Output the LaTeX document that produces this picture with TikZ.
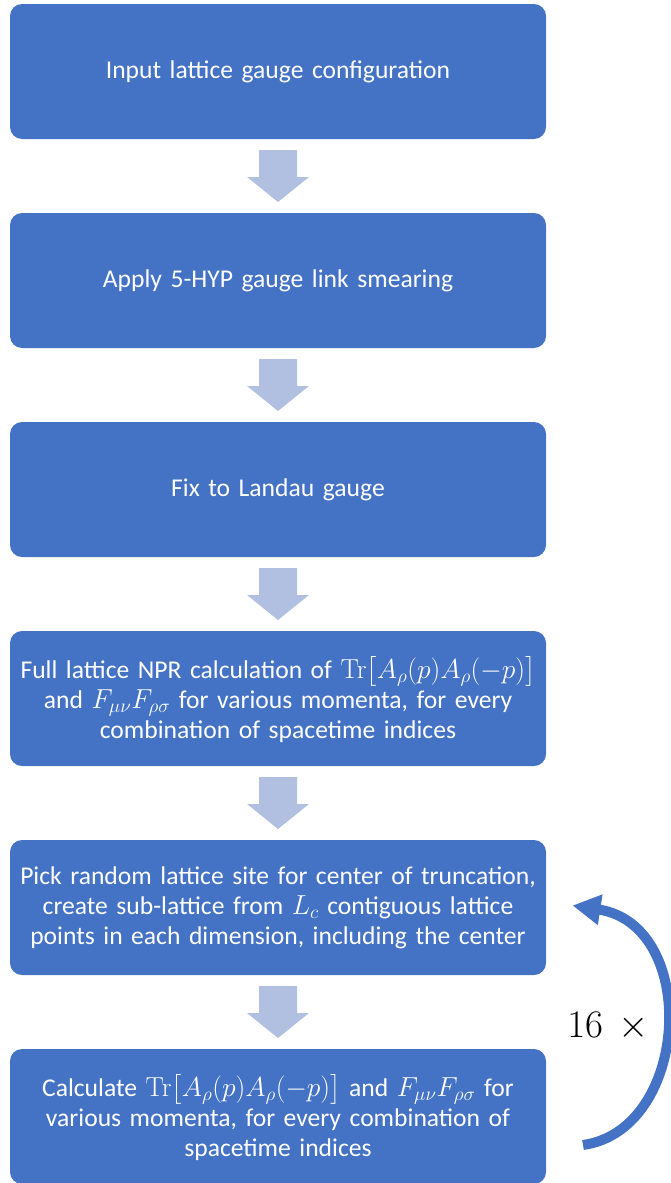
\RequirePackage{fix-cm}
\documentclass[tikz,border=0pt]{standalone}
\usepackage{amsmath}
\usepackage[no-math]{fontspec}
\setmainfont{Carlito}
\usetikzlibrary{calc,arrows.meta}

\definecolor{boxblue}{HTML}{4472C4}
\definecolor{stepgrey}{HTML}{B1BFE0}

% inline formula set a little larger than the surrounding text
\newcommand{\bigmath}[1]{{\fontsize{27.5}{30}\selectfont$#1$}}

\tikzset{
  stepbox/.style={fill=boxblue, rounded corners=12pt, minimum width=536pt,
    minimum height=135pt, text width=524pt, align=center, text=white,
    inner sep=0pt, font=\fontsize{25.6}{30}\selectfont},
  loopline/.style={draw=boxblue, line width=10pt,
    -{Triangle[length=28pt,width=29pt]}},
}

\begin{document}
\begin{tikzpicture}[x=1pt,y=-1pt]
\useasboundingbox (0,0) rectangle (670,1183);

\node[stepbox] (b1) at (278,71.5) {Input lattice gauge configuration};
\node[stepbox] (b2) at (278,280.5) {Apply 5-HYP gauge link smearing};
\node[stepbox] (b3) at (278,489.5) {Fix to Landau gauge};
\node[stepbox] (b4) at (278,698.5) {Full lattice NPR calculation of \bigmath{\mathrm{Tr}\bigl[A_\rho(p)A_\rho(-p)\bigr]}\\ and \bigmath{F_{\mu\nu}F_{\rho\sigma}} for various momenta, for every\\ combination of spacetime indices};
\node[stepbox] (b5) at (278,907.5) {Pick random lattice site for center of truncation,\\ create sub-lattice from \bigmath{L_c} contiguous lattice\\ points in each dimension, including the center};
\node[stepbox] (b6) at (278,1116.5) {Calculate \bigmath{\mathrm{Tr}\bigl[A_\rho(p)A_\rho(-p)\bigr]} and \bigmath{F_{\mu\nu}F_{\rho\sigma}} for\\ various momenta, for every combination of\\ spacetime indices};

% block arrows between consecutive steps
\foreach \a/\b in {b1/b2,b2/b3,b3/b4,b4/b5,b5/b6}{
  \path (\a.south) -- (\b.north) coordinate[midway] (m);
  \fill[stepgrey] ($(m)+(-19,-26)$) -- ($(m)+(19,-26)$) -- ($(m)+(19,1)$)
    -- ($(m)+(31,1)$) -- ($(m)+(0,26)$) -- ($(m)+(-31,1)$)
    -- ($(m)+(-19,1)$) -- cycle;
}

% repetition loop back from the last step to the truncation step
\coordinate (lpstart) at (583,1145);
\coordinate (lpend) at (572.5,905.5);
\draw[loopline] (lpstart) .. controls (690,1130) and (700,925) .. (lpend);
\node (rep) at (608,1027) {\fontsize{39}{39}\selectfont$16\mkern7mu\times$};
\end{tikzpicture}
\end{document}
